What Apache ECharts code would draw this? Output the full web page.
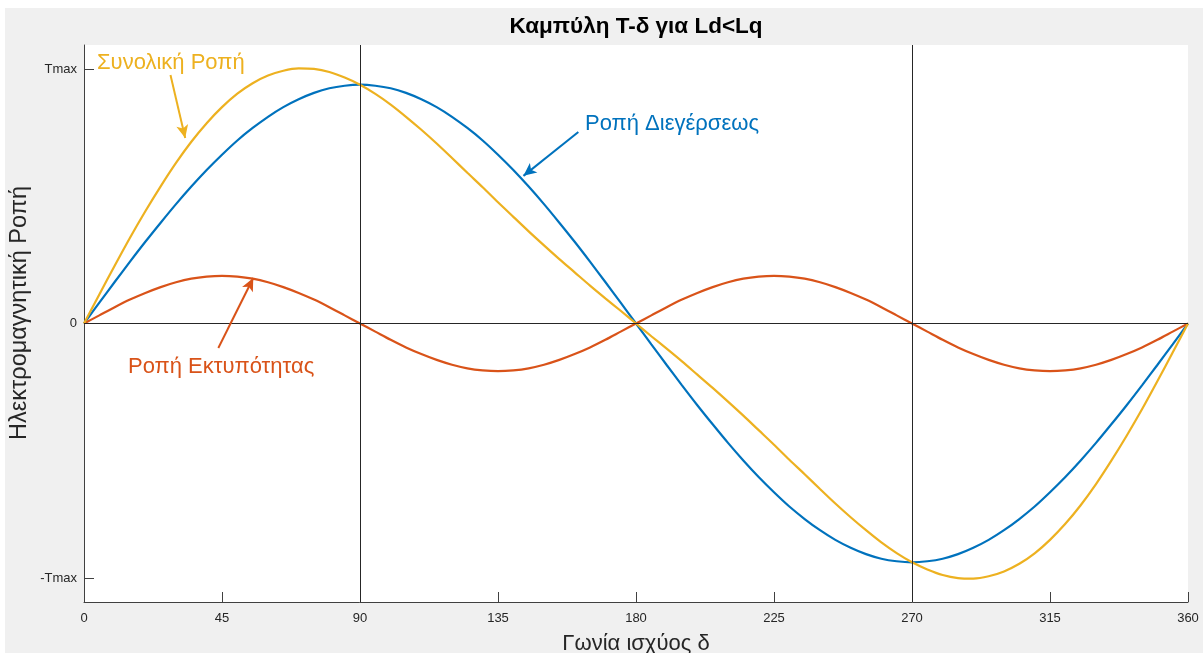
<!DOCTYPE html>
<html>
<head>
<meta charset="utf-8">
<script src="https://cdn.jsdelivr.net/npm/echarts@6/dist/echarts.min.js"></script>
<style>
  html, body { margin: 0; padding: 0; background: #ffffff; width: 1203px; height: 653px; overflow: hidden; }
  #chart { position: absolute; left: 5px; top: 8px; width: 1198px; height: 645px; background: #f0f0f0; }
</style>
</head>
<body>
<div id="chart"></div>
<script>
// Angle δ in degrees (x positions of samples, 5° apart)
const angles = [0, 5, 10, 15, 20, 25, 30, 35, 40, 45, 50, 55, 60, 65, 70, 75, 80, 85, 90,
  95, 100, 105, 110, 115, 120, 125, 130, 135, 140, 145, 150, 155, 160, 165, 170, 175, 180,
  185, 190, 195, 200, 205, 210, 215, 220, 225, 230, 235, 240, 245, 250, 255, 260, 265, 270,
  275, 280, 285, 290, 295, 300, 305, 310, 315, 320, 325, 330, 335, 340, 345, 350, 355, 360];

// Ροπή Διεγέρσεως (blue)
const excitationTorque = [0, 0.082, 0.163, 0.243, 0.321, 0.396, 0.469, 0.538, 0.603, 0.663, 0.719, 0.768, 0.812, 0.850, 0.881, 0.906, 0.924, 0.934, 0.938,
  0.934, 0.924, 0.906, 0.881, 0.850, 0.812, 0.768, 0.719, 0.663, 0.603, 0.538, 0.469, 0.396, 0.321, 0.243, 0.163, 0.082, 0,
  -0.082, -0.163, -0.243, -0.321, -0.396, -0.469, -0.538, -0.603, -0.663, -0.719, -0.768, -0.812, -0.850, -0.881, -0.906, -0.924, -0.934, -0.938,
  -0.934, -0.924, -0.906, -0.881, -0.850, -0.812, -0.768, -0.719, -0.663, -0.603, -0.538, -0.469, -0.396, -0.321, -0.243, -0.163, -0.082, 0];

// Ροπή Εκτυπότητας (orange)
const reluctanceTorque = [0, 0.032, 0.064, 0.094, 0.120, 0.143, 0.162, 0.176, 0.184, 0.187, 0.184, 0.176, 0.162, 0.143, 0.120, 0.094, 0.064, 0.032, 0,
  -0.032, -0.064, -0.094, -0.120, -0.143, -0.162, -0.176, -0.184, -0.187, -0.184, -0.176, -0.162, -0.143, -0.120, -0.094, -0.064, -0.032, 0,
  0.032, 0.064, 0.094, 0.120, 0.143, 0.162, 0.176, 0.184, 0.187, 0.184, 0.176, 0.162, 0.143, 0.120, 0.094, 0.064, 0.032, 0,
  -0.032, -0.064, -0.094, -0.120, -0.143, -0.162, -0.176, -0.184, -0.187, -0.184, -0.176, -0.162, -0.143, -0.120, -0.094, -0.064, -0.032, 0];

// Συνολική Ροπή (yellow)
const totalTorque = [0, 0.114, 0.227, 0.337, 0.441, 0.539, 0.631, 0.714, 0.787, 0.850, 0.903, 0.944, 0.974, 0.993, 1.002, 1.000, 0.988, 0.966, 0.938,
  0.902, 0.860, 0.812, 0.761, 0.707, 0.650, 0.592, 0.535, 0.476, 0.419, 0.362, 0.307, 0.253, 0.201, 0.149, 0.099, 0.050, 0,
  -0.050, -0.099, -0.149, -0.201, -0.253, -0.307, -0.362, -0.419, -0.476, -0.535, -0.592, -0.650, -0.707, -0.761, -0.812, -0.860, -0.902, -0.938,
  -0.966, -0.988, -1.000, -1.002, -0.993, -0.974, -0.944, -0.903, -0.850, -0.787, -0.714, -0.631, -0.539, -0.441, -0.337, -0.227, -0.114, 0];

const xTicks = [0, 45, 90, 135, 180, 225, 270, 315, 360];
const yTickValues = [-1, 0, 1];
const yTickLabels = ['-Tmax', '0', 'Tmax'];
const refLinesX = [90, 270];
const refLineY = 0;

// Annotation arrows (data coordinates: [δ, torque])
const arrowTotal = [[28.2, 0.976], [33.0, 0.729]];
const arrowExcitation = [[161.2, 0.752], [143.3, 0.580]];
const arrowReluctance = [[43.8, -0.096], [55.2, 0.179]];

const C_BLUE = '#0072BD', C_ORANGE = '#D95319', C_YELLOW = '#EDB120';
const FONT = '"Liberation Sans", Arial, Helvetica, sans-serif';
const AX = '#404040';

function zip(xs, ys) { return xs.map((x, i) => [x, ys[i]]); }
function arrow(pts, color) {
  return {
    silent: true, symbol: ['none', 'arrow'], symbolSize: [9, 13],
    lineStyle: { color: color, width: 2, type: 'solid' },
    label: { show: false },
    data: [[{ coord: pts[0] }, { coord: pts[1] }]]
  };
}

const chart = echarts.init(document.getElementById('chart'), null, { renderer: 'canvas' });
chart.setOption({
  animation: false,
  backgroundColor: 'transparent',
  textStyle: { fontFamily: FONT },
  title: {
    text: 'Καμπύλη T-δ για Ld<Lq',
    left: 631, top: 7, padding: 0, textAlign: 'center',
    textStyle: { fontFamily: FONT, fontSize: 22.5, fontWeight: 'bold', color: '#000' }
  },
  grid: { left: 79, top: 37, right: 15, bottom: 51, show: true, backgroundColor: '#ffffff', borderWidth: 0,
    outerBoundsMode: 'none', containLabel: false },
  xAxis: {
    type: 'value', min: 0, max: 360, interval: 45,
    name: 'Γωνία ισχύος δ', nameLocation: 'middle', nameGap: 31,
    nameTextStyle: { fontFamily: FONT, fontSize: 22, color: '#262626' },
    axisLine: { onZero: false, lineStyle: { color: AX, width: 1 } },
    axisTick: { inside: true, length: 10, lineStyle: { color: AX } },
    axisLabel: { fontFamily: FONT, fontSize: 13, color: '#262626', margin: 10,
      customValues: xTicks },
    splitLine: { show: false }
  },
  yAxis: {
    type: 'value', min: -1.094, max: 1.094,
    axisLine: { show: true, lineStyle: { color: AX, width: 1 } },
    axisTick: { inside: true, length: 10, lineStyle: { color: AX }, customValues: yTickValues },
    axisLabel: { fontFamily: FONT, fontSize: 13, color: '#262626', margin: 7,
      customValues: yTickValues,
      formatter: function (v) { const i = yTickValues.indexOf(v); return i >= 0 ? yTickLabels[i] : ''; } },
    splitLine: { show: false }
  },
  series: [
    {
      name: 'Ροπή Διεγέρσεως', type: 'line', data: zip(angles, excitationTorque),
      smooth: 0.3, showSymbol: false, z: 3,
      lineStyle: { color: C_BLUE, width: 2.2 }, itemStyle: { color: C_BLUE },
      markLine: {
        silent: true, symbol: ['none', 'none'],
        lineStyle: { color: '#262626', width: 1, type: 'solid' },
        label: { show: false },
        data: refLinesX.map(v => ({ xAxis: v })).concat([{ yAxis: refLineY }])
      }
    },
    {
      name: 'Ροπή Εκτυπότητας', type: 'line', data: zip(angles, reluctanceTorque),
      smooth: 0.3, showSymbol: false, z: 3,
      lineStyle: { color: C_ORANGE, width: 2.2 }, itemStyle: { color: C_ORANGE },
      markLine: arrow(arrowReluctance, C_ORANGE)
    },
    {
      name: 'Συνολική Ροπή', type: 'line', data: zip(angles, totalTorque),
      smooth: 0.3, showSymbol: false, z: 3,
      lineStyle: { color: C_YELLOW, width: 2.2 }, itemStyle: { color: C_YELLOW },
      markLine: arrow(arrowTotal, C_YELLOW)
    },
    {
      name: 'arrowExc', type: 'line', data: [], showSymbol: false,
      markLine: arrow(arrowExcitation, C_BLUE)
    }
  ],
  graphic: [
    { type: 'text', x: 15, y: 305, rotation: Math.PI / 2, silent: true,
      style: { text: 'Ηλεκτρομαγνητική Ροπή', fill: '#262626', font: '23.5px ' + FONT,
        align: 'center', verticalAlign: 'middle' } },
    { type: 'text', left: 92, top: 44, silent: true,
      style: { text: 'Συνολική Ροπή', fill: C_YELLOW, font: '22px ' + FONT } },
    { type: 'text', left: 580, top: 105, silent: true,
      style: { text: 'Ροπή Διεγέρσεως', fill: C_BLUE, font: '22px ' + FONT } },
    { type: 'text', left: 123, top: 348, silent: true,
      style: { text: 'Ροπή Εκτυπότητας', fill: C_ORANGE, font: '22px ' + FONT } }
  ]
});
</script>
</body>
</html>
